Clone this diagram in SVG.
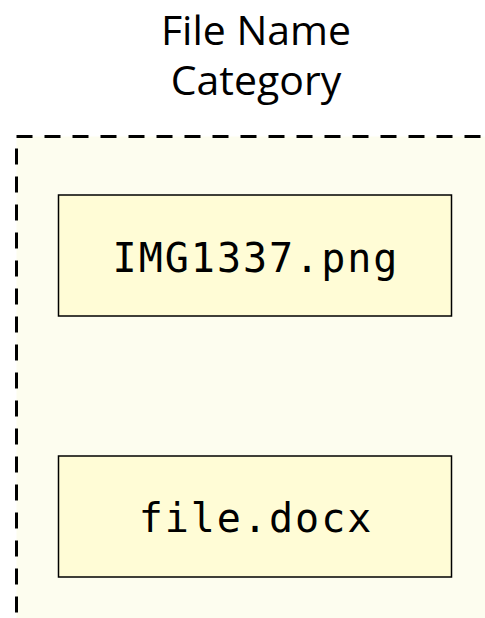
<svg xmlns="http://www.w3.org/2000/svg" width="485" height="618" viewBox="0 0 485 618">
<style>
.title{font-family:"Open Sans","Noto Sans",sans-serif;font-size:41px;fill:#000;text-anchor:middle}
.item{fill:#FFFCD6;stroke:#000;stroke-width:1.5}
.mono{font-family:"DejaVu Sans Mono","Liberation Mono",monospace;font-size:40px;fill:#000;text-anchor:middle;letter-spacing:2px}
</style>
<rect width="485" height="618" fill="#fff"/>
<g id="category">
<rect x="16.5" y="136.5" width="480" height="500" fill="#FDFDEF" stroke="#000" stroke-width="3" stroke-dasharray="16 12"/>
<text class="title" x="256" y="45">File Name</text>
<text class="title" x="256" y="95">Category</text>
</g>
<g id="node-img">
<rect class="item" x="58.5" y="195" width="393" height="121"/>
<text class="mono" x="256" y="271.5">IMG1337.png</text>
</g>
<g id="node-docx">
<rect class="item" x="58.5" y="456" width="393" height="121"/>
<text class="mono" x="256" y="531.5">file.docx</text>
</g>
<g id="connectors"/>
</svg>
